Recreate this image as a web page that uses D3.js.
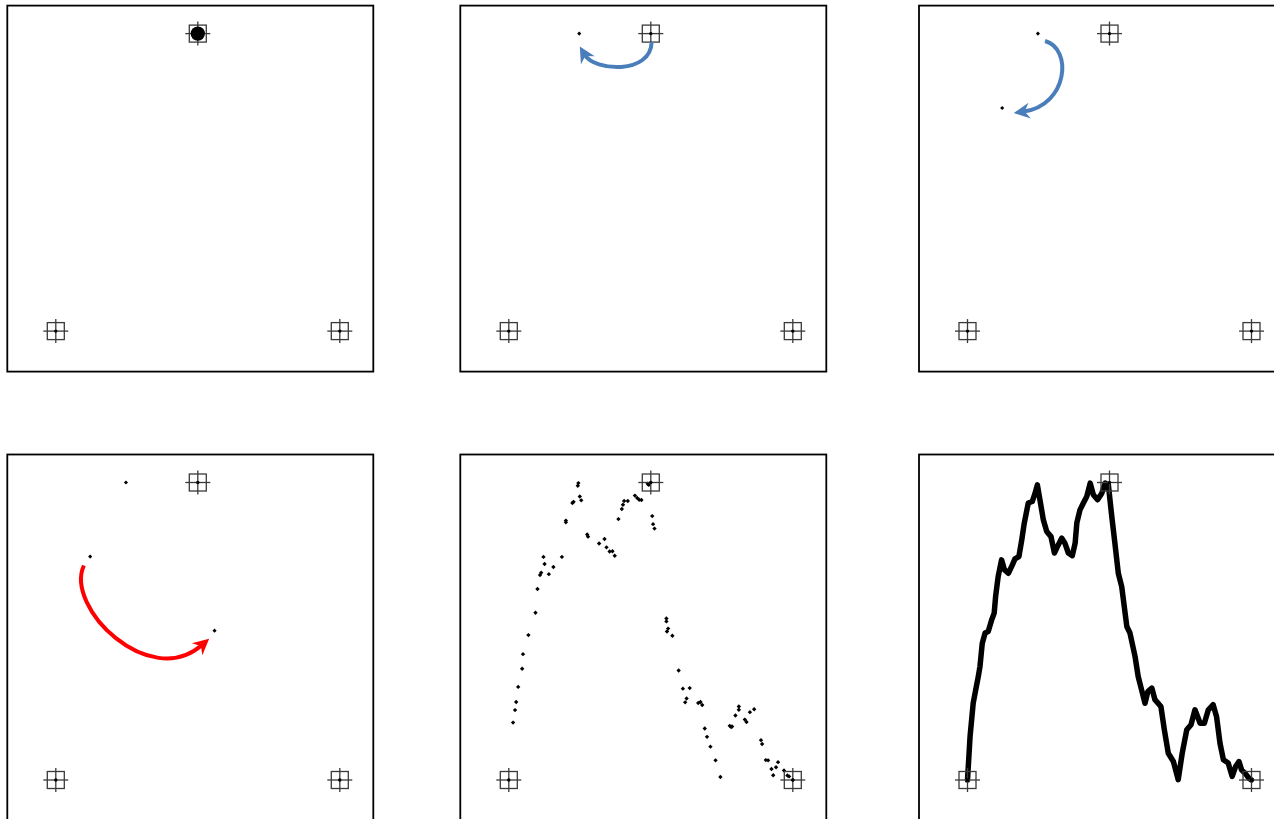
<!DOCTYPE html>
<html>
<head>
<meta charset="utf-8">
<script src="https://cdn.jsdelivr.net/npm/d3@7"></script>
<style>
  html, body { margin: 0; padding: 0; background: #fff; }
  svg { display: block; }
</style>
</head>
<body>
<svg id="chart" width="1274" height="819"></svg>
<script>
// ---------- DATA (unit coordinates: vertices at (0,0), (1,0), (0.5,1)) ----------
const vertexX = [0, 1, 0.5];
const vertexY = [0, 0, 1];

// panel 1: start point
const startX = [0.5];
const startY = [1];

// panel 2: first mapped point
const step1X = [0.248];
const step1Y = [1.0];

// panel 3: two points
const step2X = [0.248, 0.122];
const step2Y = [1.0, 0.75];

// panel 4: three points
const step3X = [0.247, 0.121, 0.559];
const step3Y = [1.0, 0.751, 0.502];

// panel 5: point cloud
const cloudX = [0.245,0.243,0.250,0.255,0.224,0.228,0.201,0.201,0.276,0.279,0.318,0.337,0.344,0.355,0.365,0.373,
  0.386,0.398,0.402,0.406,0.419,0.444,0.452,0.459,0.467,0.489,0.122,0.126,0.157,0.187,0.114,0.110,0.141,0.101,
  0.094,0.069,0.050,0.047,0.033,0.026,0.022,0.015,0.493,0.505,0.508,0.513,0.555,0.555,0.561,0.557,0.576,0.598,
  0.613,0.637,0.626,0.621,0.667,0.675,0.681,0.690,0.698,0.710,0.728,0.745,0.778,0.783,0.786,0.798,0.810,0.810,
  0.831,0.837,0.849,0.864,0.888,0.892,0.905,0.913,0.948,0.925,0.941,0.931,0.969,0.981,0.987,1.0];
const cloudY = [0.998,0.989,0.953,0.940,0.931,0.935,0.872,0.866,0.825,0.818,0.795,0.810,0.782,0.768,0.769,0.754,
  0.877,0.911,0.925,0.938,0.938,0.956,0.948,0.942,0.941,0.996,0.750,0.726,0.716,0.750,0.697,0.689,0.692,0.642,
  0.562,0.487,0.423,0.374,0.313,0.262,0.235,0.193,0.992,0.887,0.860,0.845,0.543,0.533,0.509,0.499,0.485,0.368,
  0.307,0.309,0.274,0.261,0.259,0.262,0.252,0.173,0.145,0.112,0.066,0.010,0.182,0.178,0.180,0.217,0.247,0.236,
  0.203,0.195,0.228,0.238,0.134,0.121,0.067,0.066,0.060,0.037,0.043,0.016,0.032,0.015,0.012,0.0];

// panel 6: attractor curve
const curveX = [0,0.009,0.020,0.029,0.038,0.044,0.052,0.062,0.073,0.085,0.094,0.099,0.108,0.120,0.130,0.144,0.158,
  0.167,0.181,0.191,0.200,0.214,0.228,0.238,0.246,0.255,0.267,0.279,0.294,0.306,0.320,0.332,0.343,0.355,0.369,
  0.379,0.385,0.396,0.408,0.420,0.432,0.443,0.458,0.473,0.485,0.496,0.508,0.519,0.531,0.543,0.561,0.572,0.590,
  0.601,0.613,0.625,0.635,0.649,0.660,0.681,0.693,0.707,0.725,0.742,0.756,0.772,0.787,0.801,0.819,0.834,0.848,
  0.865,0.877,0.889,0.901,0.918,0.932,0.944,0.956,0.965,0.977,0.991,1.0];
const curveY = [0,0.146,0.258,0.303,0.348,0.382,0.460,0.494,0.499,0.538,0.561,0.617,0.684,0.740,0.707,0.695,0.723,
  0.743,0.751,0.807,0.864,0.931,0.936,0.964,0.992,0.942,0.875,0.835,0.818,0.763,0.791,0.813,0.796,0.763,0.754,
  0.796,0.864,0.908,0.931,0.953,0.998,0.959,0.942,0.964,0.998,0.992,0.886,0.796,0.695,0.650,0.516,0.494,0.415,
  0.348,0.303,0.258,0.297,0.309,0.270,0.247,0.169,0.090,0.062,0.001,0.090,0.169,0.186,0.236,0.191,0.191,0.236,
  0.253,0.213,0.124,0.068,0.057,0.012,0.045,0.062,0.034,0.023,0.006,0];

// arrows (cubic Bezier control points in unit coordinates)
const arrow2 = [[0.503,0.972],[0.50,0.86],[0.30,0.875],[0.250,0.957]];
const arrow3 = [[0.273,0.975],[0.37,0.95],[0.355,0.76],[0.163,0.733]];
const arrow4 = [[0.099,0.721],[0.03,0.58],[0.33,0.30],[0.540,0.475]];

// ---------- LAYOUT ----------
const svg = d3.select("#chart");
const colLeft = [7.3, 460.3, 919];
const rowTop = [5.6, 454.5];
const frameSize = 366;
const xUnit = d3.scaleLinear().domain([-48.5/284, (366-48.5)/284]).range([0, frameSize]);
const yUnit = d3.scaleLinear().domain([-(366-325.5)/297.5, 325.5/297.5]).range([frameSize, 0]);

const panels = [
  {c:0, r:0}, {c:1, r:0}, {c:2, r:0},
  {c:0, r:1}, {c:1, r:1}, {c:2, r:1}
];

function zip(xs, ys) { return xs.map((x, i) => [x, ys[i]]); }

const gPanels = panels.map(p => svg.append("g")
  .attr("transform", `translate(${colLeft[p.c]},${rowTop[p.r]})`));

function drawFrame(g) {
  g.append("rect").attr("x", 0).attr("y", 0).attr("width", frameSize).attr("height", frameSize)
    .attr("fill", "#fff").attr("stroke", "#000").attr("stroke-width", 1.8);
}

function drawVertices(g) {
  const v = g.append("g").selectAll("g").data(zip(vertexX, vertexY)).join("g")
    .attr("transform", d => `translate(${xUnit(d[0])},${yUnit(d[1])})`);
  v.append("rect").attr("x", -8.5).attr("y", -8.5).attr("width", 17).attr("height", 17)
    .attr("fill", "none").attr("stroke", "#3a3a3a").attr("stroke-width", 1.3);
  v.append("line").attr("x1", -12.5).attr("x2", 12.5).attr("y1", 0).attr("y2", 0)
    .attr("stroke", "#3a3a3a").attr("stroke-width", 1.3);
  v.append("line").attr("x1", 0).attr("x2", 0).attr("y1", -12).attr("y2", 12)
    .attr("stroke", "#3a3a3a").attr("stroke-width", 1.3);
  v.append("circle").attr("r", 1.7).attr("fill", "#000");
}

function drawDots(g, xs, ys, s) {
  g.append("g").selectAll("rect").data(zip(xs, ys)).join("rect")
    .attr("x", -s/2).attr("y", -s/2).attr("width", s).attr("height", s)
    .attr("transform", d => `translate(${xUnit(d[0])},${yUnit(d[1])}) rotate(45)`)
    .attr("fill", "#000");
}

function drawArrow(g, pts, color) {
  const p = pts.map(d => [xUnit(d[0]), yUnit(d[1])]);
  const dx = p[3][0] - p[2][0], dy = p[3][1] - p[2][1];
  const len = Math.hypot(dx, dy), ux = dx/len, uy = dy/len;
  const nx = -uy, ny = ux;
  const L = 16, W = 8, notch = 10;
  const tip = p[3];
  const end = [tip[0] - ux*notch, tip[1] - uy*notch];
  const path = d3.path();
  path.moveTo(p[0][0], p[0][1]);
  path.bezierCurveTo(p[1][0], p[1][1], p[2][0], p[2][1], end[0], end[1]);
  g.append("path").attr("d", path.toString()).attr("fill", "none")
    .attr("stroke", color).attr("stroke-width", 4);
  const head = [
    tip,
    [tip[0] - ux*L + nx*W, tip[1] - uy*L + ny*W],
    [tip[0] - ux*(L-5), tip[1] - uy*(L-5)],
    [tip[0] - ux*L - nx*W, tip[1] - uy*L - ny*W]
  ];
  g.append("path").attr("d", "M" + head.map(d => d.join(",")).join("L") + "Z").attr("fill", color);
}

gPanels.forEach(drawFrame);

// Panel 1
drawVertices(gPanels[0]);
gPanels[0].append("g").selectAll("circle").data(zip(startX, startY)).join("circle")
  .attr("cx", d => xUnit(d[0])).attr("cy", d => yUnit(d[1])).attr("r", 7.2).attr("fill", "#000");

// Panel 2
drawVertices(gPanels[1]);
drawDots(gPanels[1], step1X, step1Y, 2.9);
drawArrow(gPanels[1], arrow2, "#4a7ebb");

// Panel 3
drawVertices(gPanels[2]);
drawDots(gPanels[2], step2X, step2Y, 2.9);
drawArrow(gPanels[2], arrow3, "#4a7ebb");

// Panel 4
drawVertices(gPanels[3]);
drawDots(gPanels[3], step3X, step3Y, 2.9);
drawArrow(gPanels[3], arrow4, "#ff0000");

// Panel 5
drawDots(gPanels[4], cloudX, cloudY, 3.1);
drawVertices(gPanels[4]);

// Panel 6
gPanels[5].append("path")
  .datum(zip(curveX, curveY))
  .attr("d", d3.line().x(d => xUnit(d[0])).y(d => yUnit(d[1])))
  .attr("fill", "none").attr("stroke", "#000").attr("stroke-width", 5.5)
  .attr("stroke-linejoin", "round").attr("stroke-linecap", "round");
drawVertices(gPanels[5]);
</script>
</body>
</html>
